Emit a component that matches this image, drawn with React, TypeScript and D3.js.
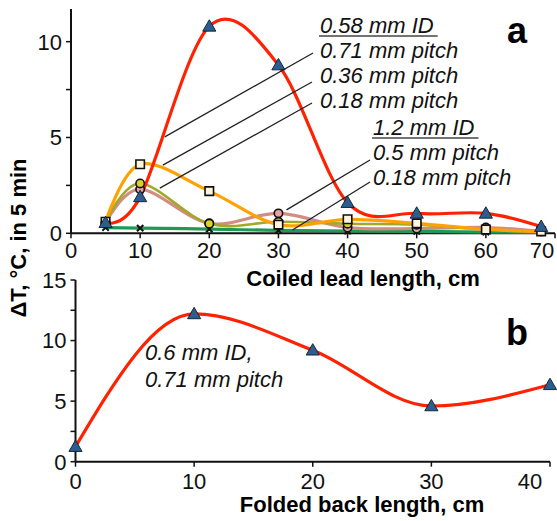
import React, { useEffect, useRef } from 'react'
import * as d3 from 'd3'

// panel a: coiled lead length, cm
const coiledLength = [5, 10, 20, 30, 40, 50, 60, 68]
const pitch071 = [0.55, 1.9, 10.8, 8.78, 1.6, 1.04, 1.04, 0.35]
const pitch036 = [0.6, 3.6, 2.2, 0.45, 0.73, 0.52, 0.2, 0.1]
const pitch018 = [0.55, 2.6, 0.5, 0.6, 0.5, 0.45, 0.2, 0.1]
const id12pitch05 = [0.55, 2.3, 0.52, 1.04, 0.3, 0.25, 0.3, 0.1]
const id12pitch018 = [0.3, 0.27, 0.22, 0.15, 0.12, 0.1, 0.06, 0.05]

// panel b: folded back length, cm
const foldedLength = [0, 10, 20, 30, 40]
const folded071 = [1.24, 12.2, 9.2, 4.6, 6.35]

const ticksA = [0, 10, 20, 30, 40, 50, 60, 70]
const ticksAY = [0, 5, 10]
const ticksB = [0, 10, 20, 30, 40]
const ticksBY = [0, 5, 10, 15]

const W = 557
const H = 521
const FONT = '"Liberation Sans", Arial, sans-serif'

const App = () => {
  const ref = useRef<SVGSVGElement>(null)

  useEffect(() => {
    const svg = d3.select(ref.current)
    svg.selectAll('*').remove()

    const xA = d3.scaleLinear().domain([0, 70]).range([71, 555])
    const yA = d3.scaleLinear().domain([0, 11.7]).range([233.3, 9.1])
    const xB = d3.scaleLinear().domain([0, 40]).range([75.5, 550])
    const yB = d3.scaleLinear().domain([0, 15]).range([461.7, 280])

    const g = svg.append('g').attr('font-family', FONT)

    // axes
    const drawAxes = (x, y, xt, yt, minor, xLabelY, xLabelMax) => {
      const [x0, x1] = x.range()
      const [y0, y1] = y.range()
      g.append('line').attr('x1', x0).attr('x2', x1).attr('y1', y0).attr('y2', y0)
        .attr('stroke', '#111').attr('stroke-width', 2)
      g.append('line').attr('x1', x0).attr('x2', x0).attr('y1', y0).attr('y2', y1)
        .attr('stroke', '#111').attr('stroke-width', 2)
      xt.forEach(t => {
        g.append('line').attr('x1', x(t)).attr('x2', x(t)).attr('y1', y0).attr('y2', y0 + 5)
          .attr('stroke', '#111').attr('stroke-width', 1.5)
        g.append('text').attr('x', Math.min(x(t), xLabelMax)).attr('y', xLabelY)
          .attr('text-anchor', 'middle').attr('font-size', 22).attr('fill', '#111').text(t)
      })
      minor.forEach(t => {
        g.append('line').attr('x1', x0 - 5).attr('x2', x0).attr('y1', y(t)).attr('y2', y(t))
          .attr('stroke', '#111').attr('stroke-width', 1.5)
      })
      yt.forEach(t => {
        g.append('text').attr('x', x0 - 9).attr('y', y(t)).attr('dy', '0.36em')
          .attr('text-anchor', 'end').attr('font-size', 22).attr('fill', '#111').text(t)
      })
    }

    drawAxes(xA, yA, ticksA, ticksAY, [0, 2.5, 5, 7.5, 10], 258, 542)
    drawAxes(xB, yB, ticksB, ticksBY, [0, 2.5, 5, 7.5, 10, 12.5, 15], 489, 530)

    // axis titles
    g.append('text').attr('x', 363).attr('y', 286).attr('text-anchor', 'middle')
      .attr('font-size', 22).attr('font-weight', 'bold').text('Coiled lead length, cm')
    g.append('text').attr('x', 362).attr('y', 512).attr('text-anchor', 'middle')
      .attr('font-size', 22).attr('font-weight', 'bold').text('Folded back length, cm')
    g.append('text').attr('transform', 'translate(26,238) rotate(-90)').attr('text-anchor', 'middle')
      .attr('font-size', 22).attr('font-weight', 'bold').text('ΔT, °C, in 5 min')
    g.append('text').attr('x', 517).attr('y', 43).attr('text-anchor', 'middle')
      .attr('font-size', 36).attr('font-weight', 'bold').text('a')
    g.append('text').attr('x', 517).attr('y', 345).attr('text-anchor', 'middle')
      .attr('font-size', 36).attr('font-weight', 'bold').text('b')

    // series lines
    const seriesA = [
      { values: id12pitch018, color: '#1f9a55', width: 3.2, marker: 'x' },
      { values: id12pitch05, color: '#d28c82', width: 3.2, marker: 'circle', fill: '#eaa2a0' },
      { values: pitch018, color: '#a2a82a', width: 2.6, marker: 'circle', fill: '#d8d420' },
      { values: pitch036, color: '#ffa200', width: 3.2, marker: 'square', fill: '#fff4dc' },
      { values: pitch071, color: '#ff2200', width: 3.2, marker: 'triangle' },
    ]

    const lineA = d3.line<number>()
      .x((d, i) => xA(coiledLength[i]))
      .y(d => yA(d))
      .curve(d3.curveCardinal.tension(0))

    seriesA.forEach(s => {
      g.append('path').attr('d', lineA(s.values)).attr('fill', 'none')
        .attr('stroke', s.color).attr('stroke-width', s.width).attr('stroke-linejoin', 'round')
    })

    const lineB = d3.line<number>()
      .x((d, i) => xB(foldedLength[i]))
      .y(d => yB(d))
      .curve(d3.curveMonotoneX)
    g.append('path').attr('d', lineB(folded071)).attr('fill', 'none')
      .attr('stroke', '#ff2200').attr('stroke-width', 3.2)

    // markers
    const symbols = {
      triangle: d3.symbol(d3.symbolTriangle, 75)(),
      square: d3.symbol(d3.symbolSquare, 72)(),
      circle: d3.symbol(d3.symbolCircle, 55)(),
      x: d3.symbol(d3.symbolX, 28)(),
    }
    const drawMarker = (px, py, s) => {
      const m = g.append('path').attr('d', symbols[s.marker])
        .attr('transform', `translate(${px},${py + (s.marker === 'triangle' ? 1 : 0)})`)
      if (s.marker === 'triangle') m.attr('fill', '#2c5d8f').attr('stroke', '#0c1b2e').attr('stroke-width', 0.9)
      else if (s.marker === 'x') m.attr('fill', 'none').attr('stroke', '#111').attr('stroke-width', 2)
      else m.attr('fill', s.fill).attr('stroke', '#111').attr('stroke-width', 1.6)
    }
    seriesA.forEach(s => {
      s.values.forEach((v, i) => drawMarker(xA(coiledLength[i]), yA(v), s))
    })
    folded071.forEach((v, i) => drawMarker(xB(foldedLength[i]), yB(v), { marker: 'triangle' }))

    // annotations with leader lines (start in data units, end at the label)
    const leaders = [
      { at: [13.56, 5.03], to: [313, 53] },
      { at: [13.28, 3.56], to: [312, 82] },
      { at: [12.84, 2.36], to: [312, 103] },
      { at: [31.17, 1.22], to: [370, 160] },
      { at: [32.03, 0.17], to: [370, 182] },
    ]
    leaders.forEach(l => {
      g.append('line').attr('x1', xA(l.at[0])).attr('y1', yA(l.at[1]))
        .attr('x2', l.to[0]).attr('y2', l.to[1])
        .attr('stroke', '#222').attr('stroke-width', 1.3)
    })

    const labels = [
      { text: '0.58 mm ID', x: 320, y: 33, underline: true },
      { text: '0.71 mm pitch', x: 320, y: 58 },
      { text: '0.36 mm pitch', x: 320, y: 83 },
      { text: '0.18 mm pitch', x: 320, y: 108 },
      { text: '1.2 mm ID', x: 373, y: 135, underline: true },
      { text: '0.5 mm pitch', x: 373, y: 160 },
      { text: '0.18 mm pitch', x: 373, y: 185 },
      { text: '0.6 mm ID,', x: 145, y: 360 },
      { text: '0.71 mm pitch', x: 145, y: 387 },
    ]
    labels.forEach(l => {
      const t = g.append('text').attr('x', l.x).attr('y', l.y)
        .attr('font-size', 22).attr('font-style', 'italic').attr('fill', '#111').text(l.text)
      if (l.underline) {
        const w = (t.node() as SVGTextElement).getComputedTextLength()
        g.append('line').attr('x1', l.x - 1).attr('x2', l.x + w + 4)
          .attr('y1', l.y + 3).attr('y2', l.y + 3).attr('stroke', '#444').attr('stroke-width', 1.5)
      }
    })
  }, [])

  return (
    <svg ref={ref} width={W} height={H}
      style={{ position: 'absolute', left: 0, top: 0, background: '#fff' }} />
  )
}

export default App
